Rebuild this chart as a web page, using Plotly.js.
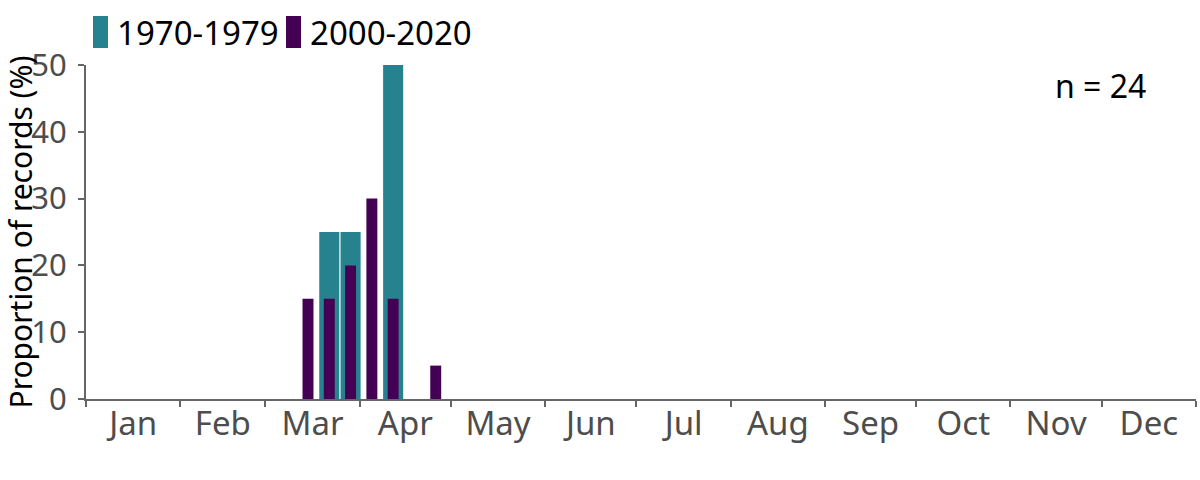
<!DOCTYPE html>
<html>
<head>
<meta charset="utf-8">
<script src="https://cdn.plot.ly/plotly-3.0.1.min.js"></script>
<style>html,body{margin:0;padding:0;background:#fff;}#chart{width:1200px;height:480px;}</style>
</head>
<body>
<div id="chart"></div>
<script>
// Weekly bin centres (day of year, shown on a 2021 date axis)
const weeks1970 = ["2021-03-22", "2021-03-29", "2021-04-12"];
const values1970 = [25, 25, 50];
const weeks2000 = ["2021-03-15", "2021-03-22", "2021-03-29", "2021-04-05", "2021-04-12", "2021-04-26"];
const values2000 = [15, 15, 20, 30, 15, 5];
const seriesNames = ["1970-1979", "2000-2020"];
const seriesColors = ["#26828e", "#440154"];
const yTitle = "Proportion of records (%)";
const nLabel = "n = 24";

const DAY = 86400000;
const FONT = "Noto Sans, DejaVu Sans, sans-serif";

const traces = [
  {
    type: "bar", name: seriesNames[0], x: weeks1970, y: values1970,
    width: weeks1970.map(() => 6.6 * DAY),
    marker: {color: seriesColors[0]}, showlegend: false
  },
  {
    type: "bar", name: seriesNames[1], x: weeks2000, y: values2000,
    width: weeks2000.map(() => 3.6 * DAY),
    marker: {color: seriesColors[1]}, showlegend: false
  }
];

// Custom legend (tall swatches) placed above the plot area, in paper coordinates
const PW = 1110, PH = 334; // plot area size in px
const px = v => (v - 86) / PW;
const py = v => (399 - v) / PH;
const legendX = [93, 286];
const shapes = seriesNames.map((n, i) => ({
  type: "rect", xref: "paper", yref: "paper",
  x0: px(legendX[i]), x1: px(legendX[i] + 15), y0: py(48), y1: py(16),
  fillcolor: seriesColors[i], line: {width: 0}
}));
const legendAnn = seriesNames.map((n, i) => ({
  text: n, xref: "paper", yref: "paper", x: px(legendX[i] + 22), y: py(33),
  xanchor: "left", yanchor: "middle", showarrow: false,
  font: {family: FONT, size: 33, color: "#000"}
}));

const layout = {
  width: 1200, height: 480,
  margin: {l: 86, r: 4, t: 65, b: 81, pad: 0},
  paper_bgcolor: "#fff", plot_bgcolor: "#fff",
  barmode: "overlay",
  font: {family: FONT, size: 30, color: "#000"},
  showlegend: false,
  xaxis: {
    type: "date",
    range: ["2021-01-01", "2022-01-01"],
    tick0: "2021-01-01", dtick: "M1", tickformat: "%b",
    ticklabelmode: "period",
    showgrid: false, zeroline: false,
    showline: true, linecolor: "#666", linewidth: 2,
    ticks: "outside", ticklen: 6, tickwidth: 2, tickcolor: "#666",
    tickfont: {family: FONT, size: 33, color: "#4d4d4d"},
    ticklabelstandoff: -12,
    fixedrange: true
  },
  yaxis: {
    range: [0, 50], tickvals: [0, 10, 20, 30, 40, 50],
    showgrid: false, zeroline: false,
    showline: true, linecolor: "#666", linewidth: 2,
    ticks: "outside", ticklen: 6, tickwidth: 2, tickcolor: "#666",
    tickfont: {family: FONT, size: 31, color: "#4d4d4d"},
    ticklabelstandoff: 5,
    fixedrange: true
  },
  shapes: shapes,
  annotations: legendAnn.concat([
    {
      text: nLabel, xref: "paper", yref: "paper", x: px(1100), y: py(85),
      xanchor: "center", yanchor: "middle", showarrow: false,
      font: {family: FONT, size: 32, color: "#000"}
    },
    {
      text: yTitle, xref: "paper", yref: "paper", x: px(-3), y: 0.5,
      xanchor: "left", yanchor: "middle", textangle: -90, showarrow: false,
      font: {family: FONT, size: 30, color: "#000"}
    }
  ])
};

Plotly.newPlot("chart", traces, layout, {displayModeBar: false, staticPlot: true});
</script>
</body>
</html>
